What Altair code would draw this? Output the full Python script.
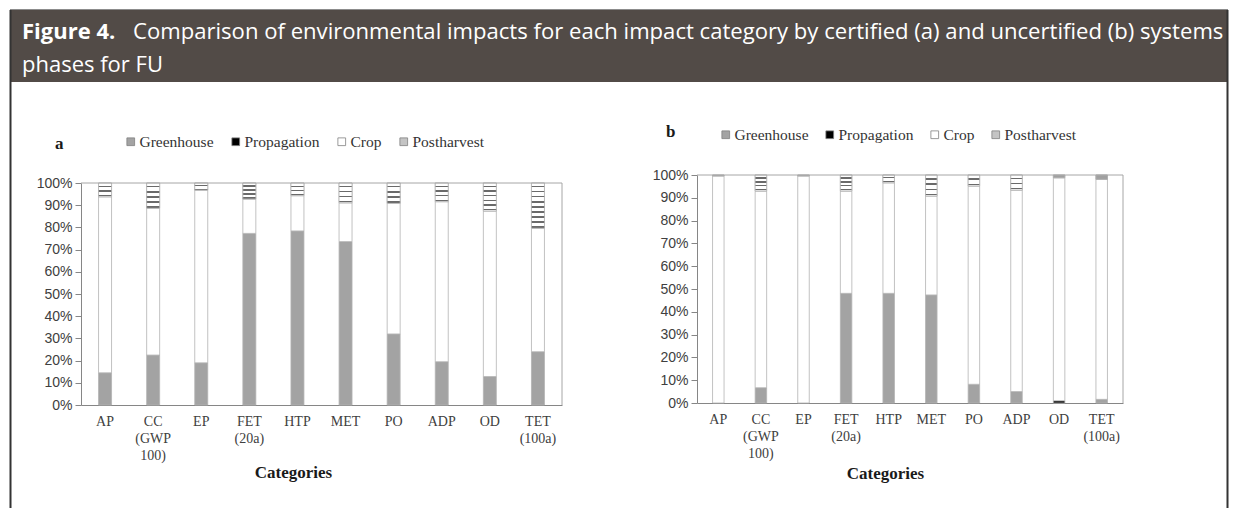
import altair as alt
import pandas as pd

categories = ["AP", "CC (GWP 100)", "EP", "FET (20a)", "HTP", "MET", "PO", "ADP", "OD", "TET (100a)"]
phases = ["Greenhouse", "Propagation", "Crop", "Postharvest"]

# (a) certified system, % of impact per phase
a_greenhouse = [14.5, 22.5, 19.0, 77.3, 78.4, 73.6, 32.0, 19.5, 12.8, 24.0]
a_propagation = [0, 0, 0, 0, 0, 0, 0, 0, 0, 0]
a_crop = [79.3, 66.1, 77.8, 15.5, 15.9, 17.5, 58.8, 72.1, 74.6, 55.6]
a_postharvest = [6.2, 11.4, 3.2, 7.2, 5.7, 8.9, 9.2, 8.4, 12.6, 20.4]

# (b) uncertified system, % of impact per phase
b_greenhouse = [0, 6.7, 0, 48.1, 48.1, 47.4, 8.2, 5.0, 0, 1.6]
b_propagation = [0, 0, 0, 0, 0, 0, 0, 0, 1.0, 0]
b_crop = [99.6, 86.3, 99.6, 44.9, 48.5, 43.4, 87.0, 88.4, 97.8, 96.5]
b_postharvest = [0.4, 7.0, 0.4, 7.0, 3.4, 9.2, 4.8, 6.6, 1.2, 1.9]

title_bold = "Figure 4."
title_rest = "Comparison of environmental impacts for each impact category by certified (a) and uncertified (b) systems"
title_line2 = "phases for FU"
axis_title = "Categories"

W, H = 1221, 500
phase_colors = ["#a3a3a3", "#000000", "#ffffff", "#c4c4c4"]


def long(series):
    rows = []
    for pi, (ph, vals) in enumerate(zip(phases, series)):
        for c, v in zip(categories, vals):
            rows.append({"cat": c, "phase": ph, "order": pi, "value": v})
    return pd.DataFrame(rows)


def stripes(n):
    stops = []
    for i in range(n):
        s = i / n
        p = 1.0 / n
        stops += [
            {"offset": s, "color": "#ffffff"},
            {"offset": s + 0.6 * p, "color": "#ffffff"},
            {"offset": s + 0.6 * p, "color": "#6a6a6a"},
            {"offset": s + 0.88 * p, "color": "#6a6a6a"},
            {"offset": s + 0.88 * p, "color": "#ffffff"},
            {"offset": s + p, "color": "#ffffff"},
        ]
    return {"gradient": "linear", "x1": 0, "y1": 0, "x2": 0, "y2": 1, "stops": stops}


post_fill = {
    "condition": [
        {"test": "datum.value >= 16", "value": stripes(9)},
        {"test": "datum.value >= 12", "value": stripes(6)},
        {"test": "datum.value >= 9.5", "value": stripes(5)},
        {"test": "datum.value >= 7", "value": stripes(4)},
        {"test": "datum.value >= 5", "value": stripes(3)},
        {"test": "datum.value >= 2.5", "value": stripes(2)},
    ],
    "value": "#a0a0a0",
}

one = alt.Data(values=[{}])


def panel(df, x0, x1, ybot, ytop, lx, ly, lpad, tx, ty):
    base = alt.Chart(df).transform_filter("datum.value > 0").transform_stack(
        stack="value", groupby=["cat"], as_=["lo", "hi"],
        sort=[alt.SortField(field="order", order="ascending")])
    xs = alt.Scale(domain=categories, range=[x0, x1], paddingInner=0.73, paddingOuter=0.365)
    ys = alt.Scale(domain=[0, 100], range=[ybot, ytop], nice=False, zero=True)
    xaxis = alt.Axis(orient="bottom", offset=ybot - H, title=axis_title, titleX=tx, titleY=ty,
                     titleBaseline="middle", titleFont="Liberation Serif", titleFontSize=17,
                     titleFontWeight="bold", titleColor="#1a1a1a",
                     labelExpr="split(datum.label, ' ')", labelAngle=0, ticks=False,
                     domainColor="#868686", labelFont="Liberation Serif", labelFontSize=14,
                     labelColor="#404040", labelPadding=9, labelLineHeight=17, labelOverlap=False)
    yaxis = alt.Axis(orient="left", offset=-x0, values=list(range(0, 101, 10)),
                     labelExpr="datum.value + '%'", title=None, grid=False, tickSize=6,
                     tickColor="#868686", domainColor="#868686", labelFont="Liberation Sans",
                     labelFontSize=14, labelColor="#404040", labelPadding=3)
    legend = alt.Legend(title=None, orient="none", legendX=lx, legendY=ly, direction="horizontal",
                        columns=4, gridAlign="none", symbolType="square", symbolSize=60,
                        symbolStrokeColor="#808080", symbolStrokeWidth=0.8,
                        labelFont="Liberation Serif", labelFontSize=15.5, labelColor="#333333",
                        columnPadding=lpad, labelOffset=1, padding=0)
    bars = base.mark_bar(stroke="#b3b3b3", strokeWidth=0.8).encode(
        x=alt.X("cat:N", scale=xs, axis=xaxis),
        y=alt.Y("lo:Q", scale=ys, axis=yaxis),
        y2="hi:Q",
        color=alt.Color("phase:N", scale=alt.Scale(domain=phases, range=phase_colors), legend=legend),
    )
    post = base.transform_filter("datum.phase == 'Postharvest'").mark_bar(
        stroke="#b3b3b3", strokeWidth=0.8).encode(
        x=alt.X("cat:N", scale=xs),
        y=alt.Y("lo:Q", scale=ys),
        y2="hi:Q",
        fill=post_fill,
    )
    top = alt.Chart(one).mark_rule(color="#a6a6a6", strokeWidth=1).encode(
        x=alt.value(x0), x2=alt.value(x1), y=alt.datum(100, scale=ys))
    right = alt.Chart(one).mark_rule(color="#a6a6a6", strokeWidth=1).encode(
        x=alt.value(x1), y=alt.datum(0, scale=ys), y2=alt.datum(100))
    return alt.layer(bars, post, top, right)


panel_a = panel(long([a_greenhouse, a_propagation, a_crop, a_postharvest]),
                73, 554, 397, 175, 115, 126, 14, 285, 67)
panel_b = panel(long([b_greenhouse, b_propagation, b_crop, b_postharvest]),
                689, 1115, 395, 167, 710, 119, 13, 877, 70)

header = alt.Chart(one).mark_rect(color="#524b47").encode(
    x=alt.value(2), x2=alt.value(1219), y=alt.value(2), y2=alt.value(74))
topline = alt.Chart(one).mark_rule(color="#8c8c8c", strokeWidth=1).encode(
    x=alt.value(2), x2=alt.value(1220), y=alt.value(1.5))
lborder = alt.Chart(one).mark_rule(color="#333333", strokeWidth=2).encode(
    x=alt.value(2.5), y=alt.value(2), y2=alt.value(H))
rborder = alt.Chart(one).mark_rule(color="#333333", strokeWidth=2).encode(
    x=alt.value(1219.5), y=alt.value(2), y2=alt.value(H))

t1 = alt.Chart(one).mark_text(font="Open Sans", fontSize=22, fontWeight="bold", color="white",
                              align="left", baseline="alphabetic").encode(
    x=alt.value(14), y=alt.value(31), text=alt.value(title_bold))
t2 = alt.Chart(one).mark_text(font="Open Sans", fontSize=22.1, color="white",
                              align="left", baseline="alphabetic").encode(
    x=alt.value(125), y=alt.value(31), text=alt.value(title_rest))
t3 = alt.Chart(one).mark_text(font="Open Sans", fontSize=22, color="white",
                              align="left", baseline="alphabetic").encode(
    x=alt.value(14), y=alt.value(64), text=alt.value(title_line2))

la = alt.Chart(one).mark_text(font="Liberation Serif", fontSize=17, fontWeight="bold", color="#1a1a1a",
                              align="left", baseline="alphabetic").encode(
    x=alt.value(47), y=alt.value(141), text=alt.value("a"))
lb = alt.Chart(one).mark_text(font="Liberation Serif", fontSize=17, fontWeight="bold", color="#1a1a1a",
                              align="left", baseline="alphabetic").encode(
    x=alt.value(658), y=alt.value(129), text=alt.value("b"))

chart = alt.layer(header, topline, lborder, rborder, t1, t2, t3, la, lb, panel_a, panel_b).resolve_scale(
    x="independent", y="independent", color="independent"
).properties(
    width=W, height=H, autosize=alt.AutoSizeParams(type="none"), padding=0, background="white"
).configure_view(strokeWidth=0)

chart.save("out.html", embed_options={"renderer": "svg", "actions": False})
